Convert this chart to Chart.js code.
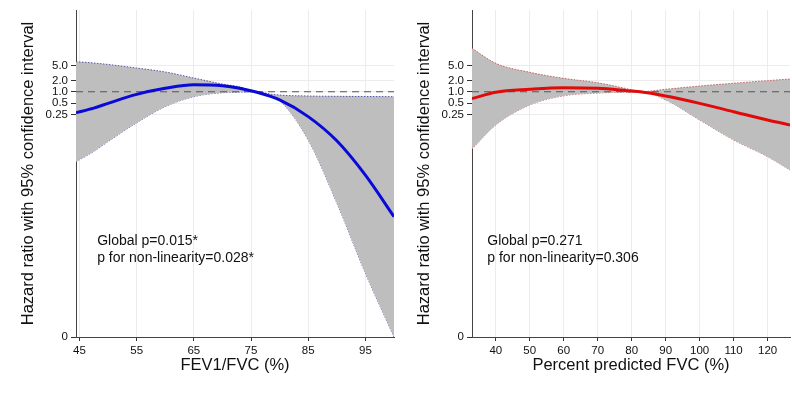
<!DOCTYPE html>
<html>
<head>
  <title>Hazard ratio splines</title>
  <script src="https://cdn.jsdelivr.net/npm/chart.js"></script>
  <style>
    body {
      margin: 0;
      background-color: #fff;
    }
    .row {
      display: flex;
      width: 792px;
      height: 394px;
    }
    .panel {
      width: 396px;
      height: 394px;
    }
  </style>
</head>
<body>
  <div class="row">
    <div class="panel"><canvas id="fevChart" width="396" height="394"></canvas></div>
    <div class="panel"><canvas id="fvcChart" width="396" height="394"></canvas></div>
  </div>

  <script>
    // y values are log hazard ratios
    const yTickHR = [0, 0.25, 0.5, 1, 2, 5];
    const yTickLabels = ['0', '0.25', '0.5', '1.0', '2.0', '5.0'];
    const yMin = -15;
    const yMax = 5;

    // Left panel: FEV1/FVC
    const fevX     = [44.4, 47.5, 50, 55, 60, 65, 70, 73, 75.7, 80, 85, 90, 95, 100];
    const fevHR    = [-1.28, -1.0, -0.71, -0.16, 0.21, 0.43, 0.37, 0.22, 0, -0.5, -1.52, -3.0, -5.1, -7.64];
    const fevUpper = [1.84, 1.76, 1.67, 1.45, 1.21, 0.84, 0.47, 0.3, 0, -0.2, -0.26, -0.28, -0.29, -0.3];
    const fevLower = [-4.28, -3.65, -3.05, -1.9, -0.91, -0.3, -0.06, -0.03, 0, -0.55, -2.95, -6.8, -11.1, -15];
    const fevTicks = [45, 55, 65, 75, 85, 95];
    const fevNotes = ['Global p=0.015*', 'p for non-linearity=0.028*'];

    // Right panel: percent predicted FVC
    const fvcX     = [33, 40, 50, 60, 70, 80, 82.5, 90, 100, 110, 120, 126.6];
    const fvcHR    = [-0.42, -0.03, 0.15, 0.25, 0.21, 0.04, 0, -0.26, -0.71, -1.22, -1.73, -2.03];
    const fvcUpper = [2.66, 1.74, 1.19, 0.82, 0.55, 0.12, 0, 0.15, 0.35, 0.52, 0.68, 0.78];
    const fvcLower = [-3.5, -2.03, -0.81, -0.25, -0.08, -0.02, 0, -0.5, -1.73, -2.95, -3.97, -4.79];
    const fvcTicks = [40, 50, 60, 70, 80, 90, 100, 110, 120];
    const fvcNotes = ['Global p=0.271', 'p for non-linearity=0.306'];

    const fontFamily = '"Liberation Sans", Arial, Helvetica, sans-serif';

    // writes the p-value notes inside the plot
    const notesPlugin = {
      id: 'notes',
      afterDatasetsDraw(chart, args, opts) {
        const ctx = chart.ctx;
        const px = chart.scales.x.getPixelForValue(opts.x);
        const py = chart.scales.y.getPixelForValue(opts.y);
        ctx.save();
        ctx.font = '14px ' + fontFamily;
        ctx.fillStyle = '#111';
        ctx.textBaseline = 'middle';
        opts.lines.forEach((t, i) => ctx.fillText(t, px, py + i * 17));
        ctx.restore();
      }
    };

    function toPoints(xs, ys) {
      return xs.map((x, i) => ({ x: x, y: ys[i] }));
    }

    function makeChart(id, cfg) {
      const xMin = cfg.x[0];
      const xMax = cfg.x[cfg.x.length - 1];
      const ciStyle = {
        borderColor: cfg.ciColor,
        borderWidth: 1,
        borderDash: [1.5, 1.5],
        pointRadius: 0,
        cubicInterpolationMode: 'monotone'
      };

      new Chart(document.getElementById(id), {
        type: 'line',
        data: {
          datasets: [
            {
              data: toPoints(cfg.x, cfg.hr),
              borderColor: cfg.color,
              borderWidth: 3,
              pointRadius: 0,
              cubicInterpolationMode: 'monotone',
              fill: false
            },
            {
              data: [{ x: xMin, y: 0 }, { x: xMax, y: 0 }],
              borderColor: '#555',
              borderWidth: 1,
              borderDash: [7, 5],
              pointRadius: 0,
              fill: false
            },
            Object.assign({
              data: toPoints(cfg.x, cfg.upper),
              fill: '+1',
              backgroundColor: '#bebebe'
            }, ciStyle),
            Object.assign({
              data: toPoints(cfg.x, cfg.lower),
              fill: false
            }, ciStyle)
          ]
        },
        options: {
          responsive: false,
          animation: false,
          layout: { padding: { top: 10, right: 2, left: 0, bottom: 0 } },
          scales: {
            x: {
              type: 'linear',
              min: xMin,
              max: xMax,
              afterBuildTicks: s => { s.ticks = cfg.ticks.map(v => ({ value: v })); },
              afterFit: s => { s.height = 57; },
              grid: { color: '#ececec', tickColor: '#333', tickLength: 4 },
              border: { color: '#444', width: 1 },
              ticks: { color: '#111', padding: 3, maxRotation: 0, autoSkip: false,
                       font: { family: fontFamily, size: 11.5 } },
              title: {
                display: true,
                text: cfg.xTitle,
                color: '#111',
                padding: { top: 0, bottom: 19 },
                font: { family: fontFamily, size: 16.5 }
              }
            },
            y: {
              type: 'linear',
              min: yMin,
              max: yMax,
              afterBuildTicks: s => {
                s.ticks = yTickHR.map(v => ({ value: v === 0 ? yMin : Math.log(v) }));
              },
              afterFit: s => { s.width = 76; },
              grid: { color: '#ececec', tickColor: '#333', tickLength: 5 },
              border: { color: '#444', width: 1 },
              ticks: {
                color: '#111',
                padding: 3,
                autoSkip: false,
                font: { family: fontFamily, size: 11.5 },
                callback: (value, index) => yTickLabels[index]
              },
              title: {
                display: true,
                text: 'Hazard ratio with 95% confidence interval',
                color: '#111',
                padding: { top: 19, bottom: 0 },
                font: { family: fontFamily, size: 16.5 }
              }
            }
          },
          plugins: {
            legend: { display: false },
            tooltip: { enabled: false },
            notes: { x: cfg.noteX, y: -9.13, lines: cfg.notes }
          }
        },
        plugins: [notesPlugin]
      });
    }

    makeChart('fevChart', {
      x: fevX, hr: fevHR, upper: fevUpper, lower: fevLower, ticks: fevTicks,
      notes: fevNotes, noteX: 48.1, xTitle: 'FEV1/FVC (%)',
      color: '#0a0ad8', ciColor: 'rgba(70,70,170,0.9)'
    });

    makeChart('fvcChart', {
      x: fvcX, hr: fvcHR, upper: fvcUpper, lower: fvcLower, ticks: fvcTicks,
      notes: fvcNotes, noteX: 37.5, xTitle: 'Percent predicted FVC (%)',
      color: '#e00a0a', ciColor: 'rgba(200,80,80,0.9)'
    });
  </script>
</body>
</html>
